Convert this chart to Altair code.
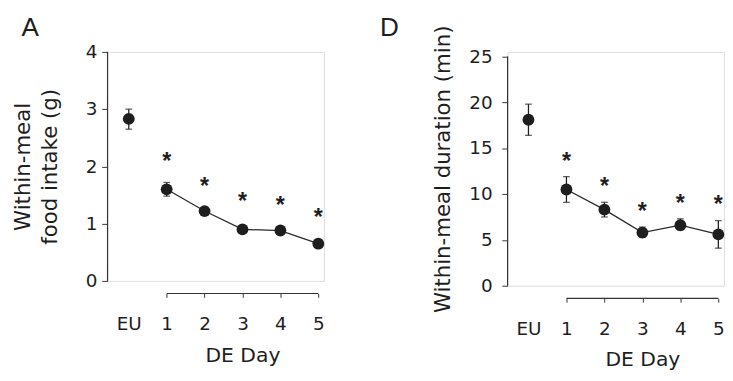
import altair as alt
import pandas as pd

# ---------------- data ----------------
x_labels = ["EU", "1", "2", "3", "4", "5"]
x_pos = [0, 1, 2, 3, 4, 5]

# Panel A: within-meal food intake (g)
a_mean = [2.83, 1.60, 1.22, 0.90, 0.88, 0.65]
a_lo = [2.65, 1.48, 1.17, 0.85, 0.84, 0.61]
a_hi = [3.00, 1.72, 1.27, 0.95, 0.92, 0.69]
a_star = [None, 2.19, 1.75, 1.49, 1.43, 1.21]

# Panel D: within-meal duration (min)
d_mean = [18.1, 10.5, 8.3, 5.8, 6.6, 5.6]
d_lo = [16.4, 9.1, 7.5, 5.3, 6.1, 4.1]
d_hi = [19.8, 11.9, 9.1, 6.4, 7.3, 7.1]
d_star = [None, 14.2, 11.5, 8.8, 9.6, 9.5]

FONT = "DejaVu Sans"
INK = "#1e1e1e"
AXC = "#333333"


def panel(letter, mean, lo, hi, star, ytop, ymax, yvals, ytitle, xdom, width, height,
          letter_x, letter_y, ytitle_pad, ylabel_pad):
    df = pd.DataFrame({"x": x_pos, "lab": x_labels, "m": mean, "lo": lo, "hi": hi, "s": star})
    days = df[df.x > 0]
    base = alt.Chart(df)
    xscale = alt.Scale(domain=xdom, nice=False, zero=False)
    yscale = alt.Scale(domain=[0, ytop], nice=False)
    title_x = (3 - xdom[0]) / (xdom[1] - xdom[0]) * width
    xaxis = alt.Axis(
        values=x_pos,
        labelExpr="datum.value == 0 ? 'EU' : datum.value",
        domain=False,
        grid=False,
        offset=13,
        tickSize=4,
        tickColor=AXC,
        tickOpacity={"condition": {"test": "datum.value == 0", "value": 0}, "value": 1},
        labelPadding=18,
        labelFontSize=19,
        labelColor=INK,
        labelFont=FONT,
        title="DE Day",
        titleFontSize=21,
        titleFont=FONT,
        titleFontWeight="normal",
        titleColor=INK,
        titlePadding=12,
        titleX=title_x,
    )
    yaxis = alt.Axis(
        values=yvals,
        format="d",
        grid=False,
        domain=False,
        tickColor=AXC,
        tickSize=6,
        labelPadding=ylabel_pad,
        labelFontSize=19,
        labelFont=FONT,
        labelColor=INK,
        title=ytitle,
        titleFontSize=22,
        titleFont=FONT,
        titleFontWeight="normal",
        titleColor=INK,
        titlePadding=ytitle_pad,
        titleLineHeight=28,
    )
    line = alt.Chart(days).mark_line(color="#2a2a2a", strokeWidth=1.3).encode(
        x=alt.X("x:Q", scale=xscale, axis=xaxis),
        y=alt.Y("m:Q", scale=yscale, axis=yaxis),
    )
    err = base.mark_rule(color=INK, strokeWidth=1.3).encode(x="x:Q", y="lo:Q", y2="hi:Q")
    cap_lo = base.mark_tick(orient="horizontal", color=INK, size=7, thickness=1.3).encode(x="x:Q", y="lo:Q")
    cap_hi = base.mark_tick(orient="horizontal", color=INK, size=7, thickness=1.3).encode(x="x:Q", y="hi:Q")
    pts = base.mark_circle(color=INK, size=150, opacity=1).encode(x="x:Q", y="m:Q")
    stars = alt.Chart(days).mark_text(
        text="*", fontSize=24, font="Liberation Sans", fontWeight="bold", color=INK, baseline="middle", dy=7
    ).encode(x="x:Q", y="s:Q")
    xline = alt.Chart(pd.DataFrame({"a": [1], "b": [5]})).mark_rule(color=AXC, strokeWidth=1.2).encode(
        x="a:Q", x2="b:Q", y=alt.value(height + 13)
    )
    yline = alt.Chart(pd.DataFrame({"a": [0], "b": [ymax]})).mark_rule(color=AXC, strokeWidth=1.2).encode(
        y="a:Q", y2="b:Q", x=alt.value(0)
    )
    lab = alt.Chart(pd.DataFrame({"t": [letter]})).mark_text(
        fontSize=27, font="Liberation Sans", color=INK, align="left", baseline="alphabetic"
    ).encode(text="t:N", x=alt.value(letter_x), y=alt.value(letter_y))
    return alt.layer(line, err, cap_lo, cap_hi, pts, stars, xline, yline, lab).properties(
        width=width,
        height=height,
    )


pa = panel("A", a_mean, a_lo, a_hi, a_star, 4, 4, [0, 1, 2, 3, 4],
           ["Within-meal", "food intake (g)"], [-0.56, 5.15], 224, 237, -89, -16, 25, 5)
pd_ = panel("D", d_mean, d_lo, d_hi, d_star, 25.5, 25, [0, 5, 10, 15, 20, 25],
            "Within-meal duration (min)", [-0.55, 5.15], 224, 242, -132, -16, 15, 10)

chart = alt.hconcat(pa, pd_, spacing=56).properties(
    padding={"left": 3, "top": 0, "right": 0, "bottom": 0}
).configure_view(stroke=None).configure(background="white")

chart.save("out.html", embed_options={"renderer": "svg", "actions": False})
